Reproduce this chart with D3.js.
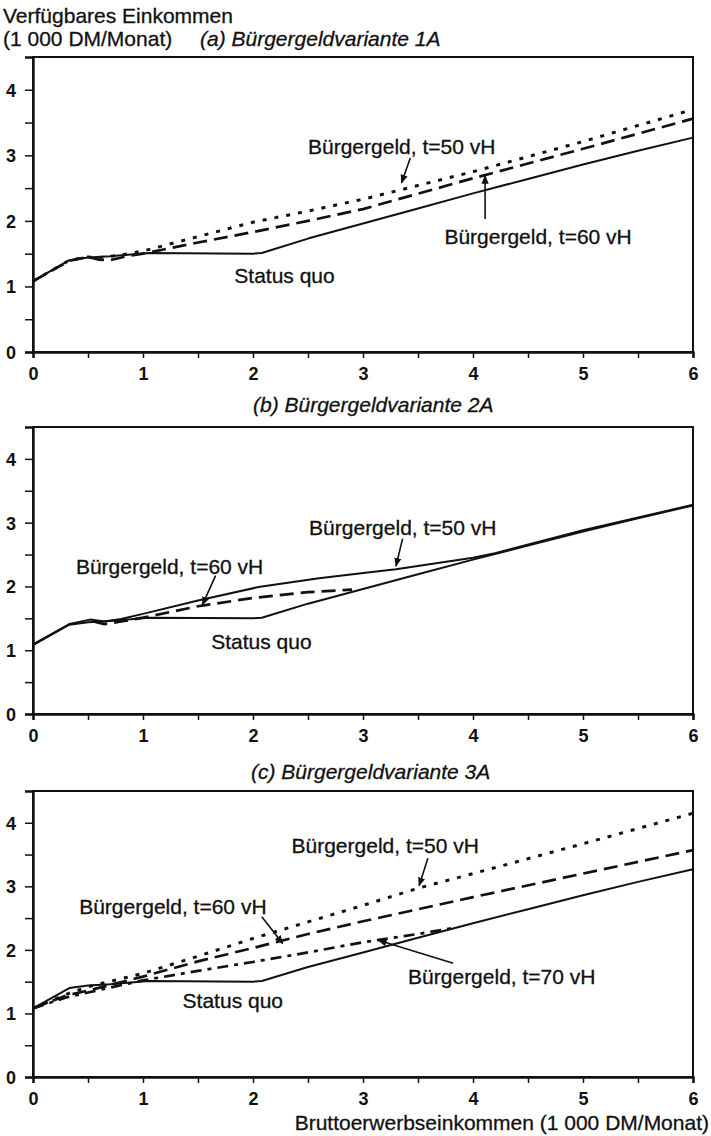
<!DOCTYPE html>
<html><head><meta charset="utf-8">
<script src="https://cdn.jsdelivr.net/npm/d3@7"></script>
<style>
body{margin:0;background:#fff}
text{font-family:"Liberation Sans",Arial,Helvetica,sans-serif;fill:#111}
.lbl{stroke:#111;stroke-width:0.3px}
</style>
</head><body><svg id="chart" width="711" height="1136"></svg>
<script>
// ---------- data ----------
const xTickValues=[0,1,2,3,4,5,6];
const yTickValues=[0,1,2,3,4];
const statusQuoX=[0,0.33,0.5,0.7,1.05,2.0,2.08,2.5,3,3.5,4,4.5,5,5.5,6];
const statusQuoY=[1.08,1.40,1.44,1.46,1.51,1.50,1.51,1.73,1.96,2.19,2.42,2.64,2.86,3.07,3.27];
// (a) Variante 1A
const aT50X=[0,0.33,0.5,0.6,0.8,1,1.5,2,2.5,3,4,5,6];
const aT50Y=[1.08,1.40,1.45,1.44,1.48,1.54,1.76,1.98,2.15,2.33,2.75,3.21,3.70];
const aT60X=[0,0.33,0.5,0.6,0.7,0.85,1,1.5,2,2.5,3,4,5,6];
const aT60Y=[1.08,1.39,1.45,1.41,1.40,1.46,1.50,1.67,1.83,2.0,2.18,2.65,3.10,3.56];
// (b) Variante 2A
const bT50X=[0,0.33,0.52,0.65,0.8,1,1.5,2.05,2.6,3.1,3.3,4,4.2,5,6];
const bT50Y=[1.09,1.41,1.48,1.45,1.49,1.57,1.78,1.99,2.13,2.23,2.27,2.45,2.52,2.88,3.28];
const bT60X=[0.55,0.65,0.8,1,1.5,2,2.5,2.9];
const bT60Y=[1.45,1.41,1.45,1.51,1.69,1.82,1.91,1.95];
// (c) Variante 3A
const cT50X=[0,0.3,0.5,1,1.5,2,2.5,3,3.5,4,5,6];
const cT50Y=[1.08,1.30,1.42,1.63,1.90,2.18,2.44,2.70,2.97,3.20,3.67,4.15];
const cT60X=[0,0.3,0.5,1,1.5,2,2.5,3,4,5,6];
const cT60Y=[1.08,1.28,1.36,1.58,1.82,2.03,2.25,2.45,2.83,3.20,3.57];
const cT70X=[0,0.3,0.5,1,1.5,2,2.5,3,3.5,3.8];
const cT70Y=[1.08,1.25,1.33,1.52,1.67,1.81,1.96,2.12,2.25,2.34];

const panelTitles=["(a) Bürgergeldvariante 1A","(b) Bürgergeldvariante 2A","(c) Bürgergeldvariante 3A"];
const lblT50="Bürgergeld, t=50 vH", lblT60="Bürgergeld, t=60 vH", lblT70="Bürgergeld, t=70 vH", lblSQ="Status quo";

// ---------- styles ----------
const styles={
  solid:{w:2,dash:null},
  dashed:{w:2.7,dash:"14,7"},
  dotted:{w:3,dash:"4,8"},
  dashdot:{w:2.7,dash:"11,6,4,6"}
};

const zip=(xs,ys)=>xs.map((x,i)=>[x,ys[i]]);

const panels=[
 {top:57,bottom:352,title:panelTitles[0],titleX:200,titleY:46,
  series:[{d:zip(statusQuoX,statusQuoY),s:"solid"},{d:zip(aT60X,aT60Y),s:"dashed"},{d:zip(aT50X,aT50Y),s:"dotted"}],
  labels:[{t:lblT50,x:2.50,y:3.13,a:[[3.43,2.96],[3.35,2.58]]},
          {t:lblT60,x:3.74,y:1.76,a:[[4.11,2.03],[4.11,2.69]]},
          {t:lblSQ,x:1.83,y:1.17}]},
 {top:427,bottom:714,title:panelTitles[1],titleX:253,titleY:412,
  series:[{d:zip(statusQuoX,statusQuoY),s:"solid"},{d:zip(bT50X,bT50Y),s:"solid"},{d:zip(bT60X,bT60Y),s:"dashed"}],
  labels:[{t:lblT50,x:2.51,y:2.93,a:[[3.36,2.75],[3.30,2.32]]},
          {t:lblT60,x:0.39,y:2.31,a:[[1.66,2.17],[1.54,1.71]]},
          {t:lblSQ,x:1.62,y:1.14}]},
 {top:791,bottom:1077,title:panelTitles[2],titleX:251,titleY:779,
  series:[{d:zip(statusQuoX,statusQuoY),s:"solid"},{d:zip(cT60X,cT60Y),s:"dashed"},{d:zip(cT50X,cT50Y),s:"dotted"},{d:zip(cT70X,cT70Y),s:"dashdot"}],
  labels:[{t:lblT50,x:2.35,y:3.65,a:[[3.59,3.44],[3.51,3.01]]},
          {t:lblT60,x:0.42,y:2.68,a:[[2.08,2.52],[2.27,2.10]]},
          {t:lblT70,x:3.41,y:1.58,a:[[3.82,1.79],[3.14,2.15]]},
          {t:lblSQ,x:1.36,y:1.21}]}
];

const svg=d3.select("#chart");
svg.append("defs").append("marker").attr("id","arr").attr("viewBox","0 0 10 10")
  .attr("refX",9).attr("refY",5).attr("markerWidth",9).attr("markerHeight",9)
  .attr("markerUnits","userSpaceOnUse").attr("orient","auto")
  .append("path").attr("d","M0,1 L10,5 L0,9 z").attr("fill","#111");

// header
svg.append("text").attr("class","lbl").attr("x",3).attr("y",23).attr("font-size",21).text("Verfügbares Einkommen");
svg.append("text").attr("class","lbl").attr("x",3).attr("y",46).attr("font-size",21).text("(1 000 DM/Monat)");

const x=d3.scaleLinear().domain([0,6]).range([33,693]);

panels.forEach(p=>{
  const y=d3.scaleLinear().domain([0,4.5]).range([p.bottom,p.top]);
  const g=svg.append("g");
  svg.append("text").attr("class","lbl").attr("x",p.titleX).attr("y",p.titleY).attr("font-size",21)
     .attr("font-style","italic").text(p.title);
  g.append("rect").attr("x",x(0)).attr("y",y(4.5)).attr("width",x(6)-x(0)).attr("height",y(0)-y(4.5))
    .attr("fill","none").attr("stroke","#111").attr("stroke-width",2);
  const xa=d3.axisBottom(x).tickValues(d3.range(0,6.01,0.5)).tickSize(6)
     .tickFormat(d=>xTickValues.includes(d)?d:"");
  const gx=g.append("g").attr("transform",`translate(0,${y(0)})`).call(xa);
  const ya=d3.axisLeft(y).tickValues(d3.range(0,4.01,0.5)).tickSize(8)
     .tickFormat(d=>yTickValues.includes(d)?d:"");
  const gy=g.append("g").attr("transform",`translate(${x(0)},0)`).call(ya);
  [gx,gy].forEach(a=>{
    a.select(".domain").attr("stroke","#111").attr("stroke-width",2.4);
    a.selectAll(".tick line").attr("stroke","#111").attr("stroke-width",1.5);
    a.selectAll(".tick text").attr("font-size",18).attr("font-weight","bold")
      .attr("font-family","Liberation Sans, Arial, sans-serif").attr("fill","#111");
  });
  gx.selectAll(".tick text").attr("dy","1.05em");
  gy.selectAll(".tick text").attr("x",-17).attr("dy","0.36em");
  const line=d3.line().x(d=>x(d[0])).y(d=>y(d[1]));
  p.series.forEach(s=>{
    const st=styles[s.s];
    g.append("path").attr("d",line(s.d)).attr("fill","none").attr("stroke","#111")
      .attr("stroke-width",st.w).attr("stroke-dasharray",st.dash)
      .attr("stroke-linejoin","round");
  });
  p.labels.forEach(l=>{
    g.append("text").attr("class","lbl").attr("x",x(l.x)).attr("y",y(l.y)).attr("dy","0.36em")
      .attr("font-size",21).text(l.t);
    if(l.a){
      g.append("line").attr("x1",x(l.a[0][0])).attr("y1",y(l.a[0][1]))
        .attr("x2",x(l.a[1][0])).attr("y2",y(l.a[1][1]))
        .attr("stroke","#111").attr("stroke-width",1.6).attr("marker-end","url(#arr)");
    }
  });
});

svg.append("text").attr("class","lbl").attr("x",709).attr("y",1130).attr("text-anchor","end").attr("font-size",21)
  .text("Bruttoerwerbseinkommen (1 000 DM/Monat)");
</script>
</body></html>
